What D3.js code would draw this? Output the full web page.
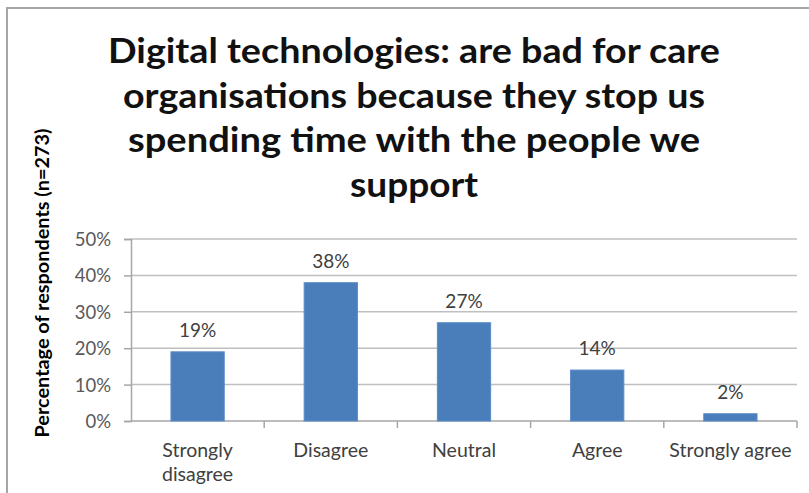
<!DOCTYPE html>
<html>
<head>
<meta charset="utf-8">
<script src="https://cdn.jsdelivr.net/npm/d3@7/dist/d3.min.js"></script>
<style>
  html, body { margin: 0; padding: 0; background: #fff; }
  svg { display: block; }
  text { font-family: Lato, "Open Sans", sans-serif; }
</style>
</head>
<body>
<svg id="chart" width="809" height="493"></svg>
<script>
// Survey responses
const categories = ["Strongly disagree", "Disagree", "Neutral", "Agree", "Strongly agree"];
const categoryLines = [["Strongly", "disagree"], ["Disagree"], ["Neutral"], ["Agree"], ["Strongly agree"]];
const percentages = [19, 38, 27, 14, 2];
const yTicks = [0, 10, 20, 30, 40, 50];
const titleLines = [
  "Digital technologies: are bad for care",
  "organisations because they stop us",
  "spending time with the people we",
  "support"
];
const yAxisTitle = "Percentage of respondents (n=273)";

const svg = d3.select("#chart");
const W = 809, H = 493;

// chart frame (top and left edges)
svg.append("path")
  .attr("d", `M7,${H} L7,8 L${W},8`)
  .attr("fill", "none")
  .attr("stroke", "#a6a6a6")
  .attr("stroke-width", 2);

// title
const titleWidths = [612, 582, 572, 128];
const titleBaselines = [63, 108, 152, 197];
svg.append("g").selectAll("text")
  .data(titleLines)
  .join("text")
  .attr("x", 414)
  .attr("y", (d, i) => titleBaselines[i])
  .attr("text-anchor", "middle")
  .attr("font-size", 34)
  .attr("font-weight", "bold")
  .attr("fill", "#111")
  .attr("textLength", (d, i) => titleWidths[i])
  .attr("lengthAdjust", "spacingAndGlyphs")
  .text(d => d);

// plot area
const plot = { left: 131, right: 797, top: 239, bottom: 421 };

const x = d3.scaleBand()
  .domain(categories)
  .range([plot.left, plot.right])
  .paddingInner(0.6)
  .paddingOuter(0.3);

const xOuter = d3.scaleBand()
  .domain(categories)
  .range([plot.left, plot.right]);

const y = d3.scaleLinear()
  .domain([0, 50])
  .range([plot.bottom, plot.top]);

// gridlines
svg.append("g").selectAll("line")
  .data(yTicks.filter(t => t > 0))
  .join("line")
  .attr("x1", plot.left)
  .attr("x2", plot.right)
  .attr("y1", d => y(d))
  .attr("y2", d => y(d))
  .attr("stroke", "#bfbfbf")
  .attr("stroke-width", 1.5);

// y axis
const yAxis = svg.append("g")
  .attr("transform", `translate(${plot.left},0)`)
  .call(d3.axisLeft(y).tickValues(yTicks).tickSize(7).tickPadding(13).tickFormat(d => d + "%"));
yAxis.select(".domain").attr("stroke", "#a6a6a6").attr("stroke-width", 1.5);
yAxis.selectAll(".tick line").attr("stroke", "#a6a6a6").attr("stroke-width", 1.5);
yAxis.selectAll(".tick text")
  .attr("font-size", 18.5)
  .attr("fill", "#595959")
  .attr("font-family", "Lato, sans-serif")
  .attr("dy", "0.35em");

// x axis baseline and category ticks
svg.append("line")
  .attr("x1", plot.left).attr("x2", plot.right)
  .attr("y1", plot.bottom).attr("y2", plot.bottom)
  .attr("stroke", "#a6a6a6").attr("stroke-width", 1.5);
const tickXs = categories.map(c => xOuter(c) + xOuter.bandwidth());
svg.append("g").selectAll("line")
  .data(tickXs)
  .join("line")
  .attr("x1", d => d).attr("x2", d => d)
  .attr("y1", plot.bottom).attr("y2", plot.bottom + 7)
  .attr("stroke", "#a6a6a6").attr("stroke-width", 1.5);

// bars
svg.append("g").selectAll("rect")
  .data(percentages)
  .join("rect")
  .attr("x", (d, i) => x(categories[i]))
  .attr("y", d => y(d))
  .attr("width", x.bandwidth())
  .attr("height", d => y(0) - y(d))
  .attr("fill", "#4a7ebb")
  .attr("stroke", "#5b8cc8")
  .attr("stroke-width", 1);

// value labels
svg.append("g").selectAll("text")
  .data(percentages)
  .join("text")
  .attr("x", (d, i) => x(categories[i]) + x.bandwidth() / 2)
  .attr("y", d => y(d) - 15)
  .attr("text-anchor", "middle")
  .attr("font-size", 19)
  .attr("fill", "#404040")
  .text(d => d + "%");

// category labels
const catG = svg.append("g").selectAll("text")
  .data(categoryLines)
  .join("text")
  .attr("x", (d, i) => xOuter(categories[i]) + xOuter.bandwidth() / 2)
  .attr("y", 457)
  .attr("text-anchor", "middle")
  .attr("font-size", 19.5)
  .attr("fill", "#404040");
catG.selectAll("tspan")
  .data(d => d)
  .join("tspan")
  .attr("x", function () { return d3.select(this.parentNode).attr("x"); })
  .attr("dy", (d, i) => i === 0 ? 0 : 24)
  .text(d => d);

// y axis title
svg.append("text")
  .attr("transform", "translate(49,283) rotate(-90)")
  .attr("text-anchor", "middle")
  .attr("font-size", 18)
  .attr("font-weight", "bold")
  .attr("fill", "#000")
  .attr("textLength", 309)
  .attr("lengthAdjust", "spacingAndGlyphs")
  .text(yAxisTitle);
</script>
</body>
</html>
